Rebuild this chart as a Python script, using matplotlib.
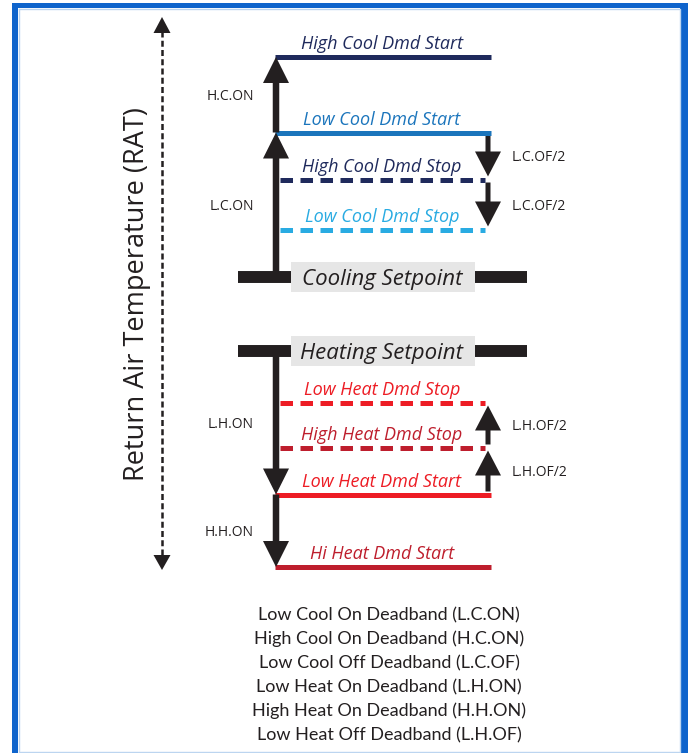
import matplotlib
matplotlib.use("Agg")
import matplotlib.pyplot as plt
from matplotlib.patches import Rectangle, Polygon

# demand levels (diagram units = RAT position, top is warmer)
level_names = ["High Cool Dmd Start", "Low Cool Dmd Start", "High Cool Dmd Stop",
               "Low Cool Dmd Stop", "Low Heat Dmd Stop", "High Heat Dmd Stop",
               "Low Heat Dmd Start", "Hi Heat Dmd Start"]
level_rat = [57, 132.5, 179.5, 229.5, 402.5, 447.5, 494.5, 567]
level_colors = ["#1f2a5c", "#1b75bc", "#1f2a5c", "#29abe2",
                "#ed1c24", "#be1e2d", "#ed1c24", "#be1e2d"]
level_dashed = [False, False, True, True, True, True, False, False]

setpoint_names = ["Cooling Setpoint", "Heating Setpoint"]
setpoint_rat = [277, 351]

# "on" deadband arrows: (from, to, label)
on_bands = [(277, 132.5, "L.C.ON"), (132.5, 57, "H.C.ON"),
            (351, 494.5, "L.H.ON"), (494.5, 567, "H.H.ON")]
# "off" deadband arrows
off_bands = [(132.5, 179.5, "L.C.OF/2"), (179.5, 229.5, "L.C.OF/2"),
             (494.5, 447.5, "L.H.OF/2"), (447.5, 402.5, "L.H.OF/2")]

legend_lines = ["Low Cool On Deadband (L.C.ON)", "High Cool On Deadband (H.C.ON)",
                "Low Cool Off Deadband (L.C.OF)", "Low Heat On Deadband (L.H.ON)",
                "High Heat On Deadband (H.H.ON)", "Low Heat Off Deadband (L.H.OF)"]

INK = "#231f20"
BLUE = "#0f64cc"

fig = plt.figure(figsize=(6.88, 7.53), dpi=100)
ax = fig.add_axes([0, 0, 1, 1])
ax.set_xlim(0, 688)
ax.set_ylim(753, 0)
ax.axis("off")

# frame
ax.add_patch(Rectangle((12, 3), 676, 5, color=BLUE, lw=0))
ax.add_patch(Rectangle((12, 3), 6, 750, color=BLUE, lw=0))
ax.add_patch(Rectangle((680, 3), 8, 750, color=BLUE, lw=0))
ax.plot([18.5, 679.5, 679.5, 18.5, 18.5], [8.5, 8.5, 751.5, 751.5, 8.5], color="#bcd5f0", lw=1)


def head(x, tip, direction, w, l):
    ax.add_patch(Polygon([(x - w / 2, tip - direction * l), (x + w / 2, tip - direction * l), (x, tip)],
                         closed=True, color=INK, lw=0))


# RAT axis
rat_x, rat_top, rat_bot = 162, 17, 570
ax.plot([rat_x, rat_x], [rat_top + 14, rat_bot - 12], color=INK, lw=1.8,
        linestyle=(0, (2.4, 1.3)), solid_capstyle="butt")
head(rat_x, rat_top, -1, 17, 16)
head(rat_x, rat_bot, 1, 17, 15)
ax.text(137, 294.5, "Return Air Temperature (RAT)", rotation=90, ha="center", va="center",
        fontsize=19.5, family="Open Sans", color=INK)

# demand level lines
for name, y, c, d in zip(level_names, level_rat, level_colors, level_dashed):
    if d:
        ax.plot([280, 485], [y, y], color=c, lw=3.6, linestyle=(0, (2.5, 1.5)), solid_capstyle="butt")
    else:
        ax.plot([275, 491], [y, y], color=c, lw=3.6, solid_capstyle="butt")
    ax.text(382, y - 8, name, ha="center", va="baseline", fontsize=13, style="italic",
            family="Open Sans", color=c)

# setpoints
for name, y in zip(setpoint_names, setpoint_rat):
    ax.plot([238, 527], [y, y], color=INK, lw=8.6, solid_capstyle="butt", zorder=2)
    ax.add_patch(Rectangle((291, y - 15), 184, 30, color="#e6e6e6", lw=0, zorder=3))
    ax.text(382, y + 7.5, name, ha="center", va="baseline", fontsize=16, style="italic",
            family="Open Sans", color=INK, zorder=4)

# on deadband arrows
for y0, y1, lab in on_bands:
    ax.arrow(276, y0, 0, y1 - y0, width=6.5, head_width=26, head_length=26,
             length_includes_head=True, color=INK, lw=0, zorder=2.5)
    ax.text(254, (y0 + y1) / 2 + 5, lab, ha="right", va="baseline", fontsize=10,
            family="Open Sans", color=INK)

# off deadband arrows
for y0, y1, lab in off_bands:
    s = 1 if y1 > y0 else -1
    ax.arrow(488, y0 + 3 * s, 0, (y1 - y0) - 6 * s, width=5, head_width=26, head_length=25,
             length_includes_head=True, color=INK, lw=0)
    ax.text(512, (y0 + y1) / 2 + 5, lab, ha="left", va="baseline", fontsize=10,
            family="Open Sans", color=INK)

# legend text
for i, line in enumerate(legend_lines):
    ax.text(389, 620 + 24 * i, line, ha="center", va="baseline", fontsize=13,
            family="Lato", color=INK)

fig.savefig("out.png", dpi=100)
